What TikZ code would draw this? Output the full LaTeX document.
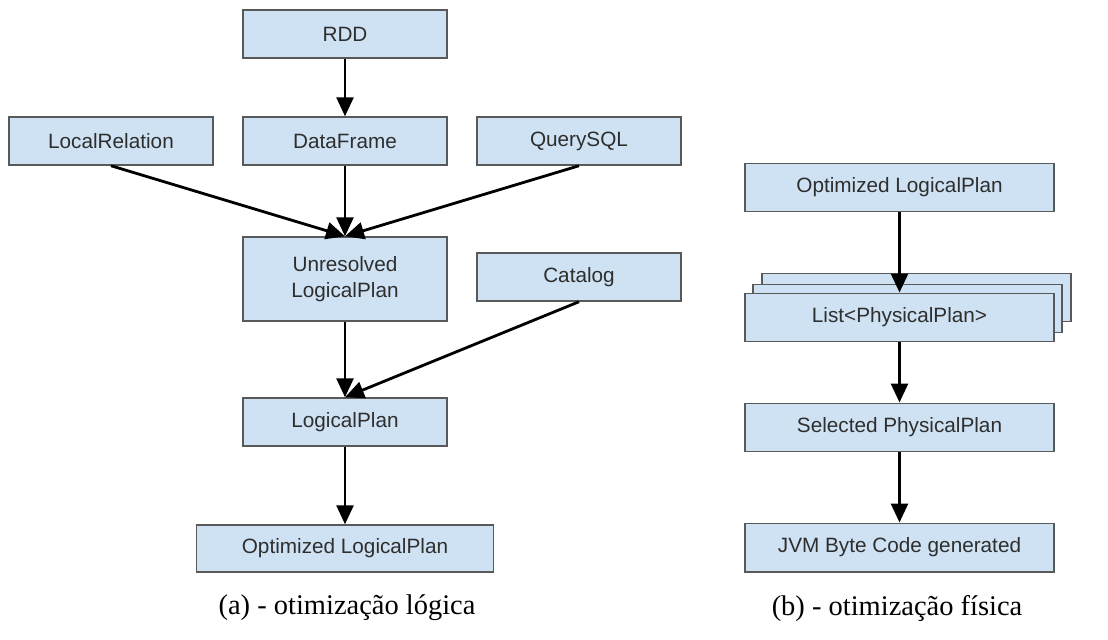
\documentclass[tikz,border=0pt]{standalone}
\usepackage{fontspec}
\setmainfont{Liberation Sans}
\newfontfamily\capfont{Liberation Serif}
\usetikzlibrary{arrows.meta}
\definecolor{boxfill}{HTML}{CFE2F3}
\definecolor{boxline}{HTML}{595959}
\definecolor{boxtext}{HTML}{2E2E2E}
\begin{document}
\begin{tikzpicture}[x=0.02cm,y=-0.02cm,
  box/.style={draw=boxline, line width=0.85pt, fill=boxfill, text=boxtext,
    minimum width=4.08cm, minimum height=0.96cm, inner sep=0pt, align=center,
    font=\fontsize{11.8}{14.5}\selectfont},
  widebox/.style={box, minimum width=6.18cm, minimum height=0.97cm},
  arr/.style={-{Triangle[length=0.38cm,width=0.34cm]}, line width=1.6pt, black},
  captext/.style={font=\capfont\fontsize{16.2}{19}\selectfont}]
\useasboundingbox (0,0) rectangle (1108,639);
% left diagram
\node[box] (rdd) at (345,34) {RDD};
\node[box] (local) at (111,141) {LocalRelation};
\node[box] (df) at (345,141) {DataFrame};
\node[box] (sql) at (579,141) {QuerySQL};
\node[box, minimum height=1.68cm] (unres) at (345,279) {Unresolved\\LogicalPlan};
\node[box] (cat) at (579,277) {Catalog};
\node[box] (lp) at (345,422) {LogicalPlan};
\node[box, minimum width=5.94cm, minimum height=0.94cm] (optl) at (345,548.5) {Optimized LogicalPlan};
\draw[arr] (rdd) -- (df);
\draw[arr] (local.south) -- (unres.north);
\draw[arr] (df) -- (unres);
\draw[arr] (sql.south) -- (unres.north);
\draw[arr] (unres) -- (lp);
\draw[arr] (cat.south) -- (lp.north);
\draw[arr] (lp) -- (optl);
% right diagram
\node[widebox] (optr) at (899.5,187.5) {Optimized LogicalPlan};
\node[widebox] (listb) at (916.5,297.5) {};
\node[widebox] (listm) at (907.5,308.5) {};
\node[widebox] (list) at (899.5,317.5) {List<PhysicalPlan>};
\node[widebox] (sel) at (899.5,427.5) {Selected PhysicalPlan};
\node[widebox] (jvm) at (899.5,547.5) {JVM Byte Code generated};
\draw[arr] (optr) -- (list);
\draw[arr] (list) -- (sel);
\draw[arr] (sel) -- (jvm);
% captions
\node[captext] (capa) at (347,608) {(a) - otimização lógica};
\node[captext] (capb) at (897,608) {(b) - otimização física};
\end{tikzpicture}
\end{document}
